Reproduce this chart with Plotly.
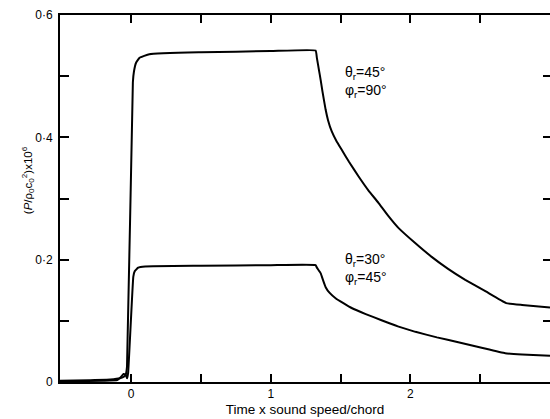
import plotly.graph_objects as go

# Pressure histories for two observer directions
t_upper = [-0.51, -0.3, -0.15, -0.08, -0.05, -0.038, -0.03, 0.012, 0.02, 0.035, 0.06, 0.13,
           0.5, 1.0, 1.321, 1.33, 1.345, 1.357, 1.37, 1.393, 1.41, 1.436, 1.47, 1.507,
           1.56, 1.629, 1.70, 1.771, 1.84, 1.914, 2.03, 2.15, 2.27, 2.393, 2.54, 2.686,
           2.8, 3.0]
p_upper = [0.002, 0.003, 0.004, 0.006, 0.009, 0.013, 0.025, 0.49, 0.508, 0.522, 0.530,
           0.536, 0.539, 0.541, 0.542, 0.530, 0.510, 0.494, 0.475, 0.445, 0.428, 0.410,
           0.394, 0.380, 0.360, 0.336, 0.313, 0.293, 0.272, 0.252, 0.228, 0.205, 0.185,
           0.167, 0.148, 0.129, 0.126, 0.122]

t_lower = [-0.51, -0.2, -0.1, -0.075, -0.055, -0.04, -0.03, -0.022, 0.015, 0.025, 0.05,
           0.1, 0.5, 1.0, 1.321, 1.33, 1.357, 1.375, 1.393, 1.42, 1.464, 1.52, 1.579,
           1.68, 1.793, 1.91, 2.036, 2.19, 2.343, 2.51, 2.679, 2.8, 3.0]
p_lower = [0.001, 0.002, 0.003, 0.008, 0.013, 0.012, 0.006, 0.015, 0.172, 0.181, 0.187,
           0.189, 0.190, 0.191, 0.191, 0.187, 0.178, 0.166, 0.155, 0.146, 0.137, 0.129,
           0.121, 0.111, 0.101, 0.091, 0.082, 0.073, 0.065, 0.056, 0.047, 0.045, 0.043]

x_tickvals = [0, 0.5, 1, 1.5, 2, 2.5]
x_ticktext = ["0", "", "1", "", "2", ""]
y_tickvals = [0, 0.1, 0.2, 0.3, 0.4, 0.5, 0.6]
y_ticktext = ["0", "", "0·2", "", "0·4", "", "0·6"]

FONT = "Liberation Sans"

fig = go.Figure()
for t, p in [(t_upper, p_upper), (t_lower, p_lower)]:
    fig.add_trace(go.Scatter(x=t, y=p, mode="lines",
                             line=dict(color="black", width=2, shape="spline",
                                       smoothing=0.3),
                             showlegend=False, hoverinfo="skip"))

# invisible trace that carries the right-hand tick marks
fig.add_trace(go.Scatter(x=[0], y=[0], yaxis="y2", mode="lines",
                         line=dict(width=0), showlegend=False, hoverinfo="skip"))

fig.update_layout(
    width=550, height=419,
    margin=dict(l=60, r=0, t=15, b=37),
    paper_bgcolor="white", plot_bgcolor="white",
    font=dict(family=FONT, size=12, color="black"),
    xaxis=dict(range=[-0.51, 3.0], tickvals=x_tickvals, ticktext=x_ticktext,
               ticks="inside", ticklen=8, tickwidth=2, tickcolor="black",
               showline=True, linecolor="black", linewidth=2, mirror="ticks",
               showgrid=False, zeroline=False, ticklabelstandoff=0,
               tickfont=dict(size=12),
               title=dict(text="Time x sound speed/chord", standoff=4,
                          font=dict(size=13.5))),
    yaxis=dict(range=[0, 0.6], tickvals=y_tickvals, ticktext=y_ticktext,
               ticks="inside", ticklen=9, tickwidth=2, tickcolor="black",
               showline=True, linecolor="black", linewidth=2,
               showgrid=False, zeroline=False, ticklabelstandoff=3,
               tickfont=dict(size=12)),
    yaxis2=dict(range=[0, 0.6], overlaying="y", side="right",
                tickvals=y_tickvals, showticklabels=False,
                ticks="inside", ticklen=7, tickwidth=2, tickcolor="black",
                showline=False, showgrid=False, zeroline=False),
)

# y-axis title, placed 28 px from the left edge of the figure
fig.add_annotation(x=(28 - 60) / 490, xref="paper", y=0.33, yref="y",
                   xanchor="center", yanchor="middle", showarrow=False,
                   textangle=-90,
                   text="(<i>P</i>/ρ<sub>0</sub>c<sub>0</sub><sup>2</sup>)x10<sup>6</sup>",
                   font=dict(size=11.5))

labels = [
    (1.52, 0.490, "θ<sub>r</sub>=45°<br>φ<sub>r</sub>=90°"),
    (1.52, 0.184, "θ<sub>r</sub>=30°<br>φ<sub>r</sub>=45°"),
]
for x, y, txt in labels:
    fig.add_annotation(x=x, y=y, xref="x", yref="y", text=txt, showarrow=False,
                       xanchor="left", yanchor="middle", align="left",
                       font=dict(size=14))

fig.write_html("out.html")
